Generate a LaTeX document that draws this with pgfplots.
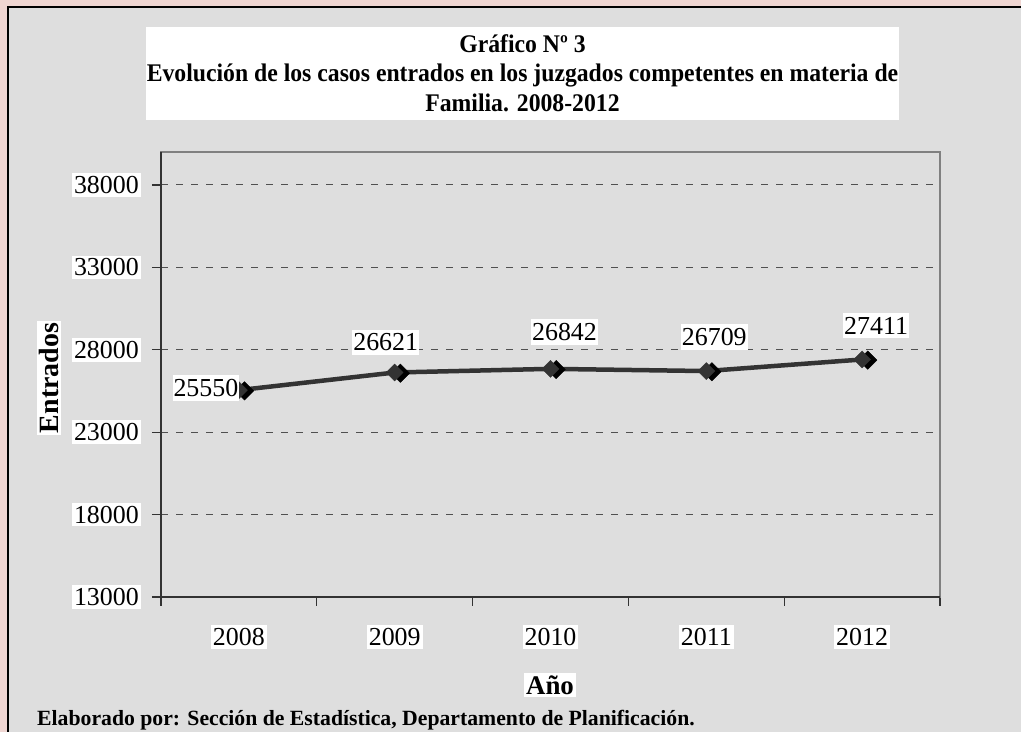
\documentclass[border=0pt]{standalone}
\usepackage{fontspec}
\setmainfont{Liberation Serif}
\usepackage{pgfplots}
\pgfplotsset{compat=1.18}
\usepackage{pgfplotstable}
\definecolor{panel}{HTML}{DEDEDE}
\definecolor{pinkbg}{HTML}{EFD6D2}
\definecolor{linec}{HTML}{333333}
\definecolor{framec}{HTML}{808080}
\definecolor{gridc}{HTML}{505050}
\pgfplotstableread{
x y dx dy
1 25550 -33 2
2 26621 -9 30
3 26842 14 37
4 26709 8 34
5 27411 14 34
}\datatable
\begin{document}
\begin{tikzpicture}
\useasboundingbox (0,0) rectangle (1021bp,732bp);
\fill[pinkbg] (-2bp,-2bp) rectangle (1023bp,734bp);
\fill[panel] (8bp,-3bp) rectangle (1025bp,725bp);
\draw[black, line width=1.5bp] (8bp,-3bp) -- (8bp,725bp) -- (1025bp,725bp);
\fill[white] (146bp,612bp) rectangle (899bp,705bp);
\node[align=center, font=\bfseries\fontsize{23.8}{27.5}\selectfont, yscale=1.07] at (522.5bp,659bp)
  {Gráfico Nº 3\\Evolución de los casos entrados en los juzgados competentes en materia de\\Familia. 2008-2012};
\begin{axis}[
  at={(161bp,135bp)}, anchor=south west,
  width=779bp, height=445bp, scale only axis,
  xmin=0.5, xmax=5.5, ymin=13000, ymax=40000,
  xtick={0.5,1.5,2.5,3.5,4.5,5.5},
  x tick label as interval,
  xticklabels={2008,2009,2010,2011,2012},
  ytick={13000,18000,23000,28000,33000,38000},
  yticklabels={13000,18000,23000,28000,33000,38000},
  scaled y ticks=false,
  ymajorgrids,
  y grid style={draw=gridc, line width=1bp, dash pattern=on 7bp off 8bp},
  tick align=outside, tick pos=left,
  major tick length=9bp,
  axis line style={draw=framec, line width=2bp},
  tick style={draw=linec, line width=1.2bp},
  ticklabel style={font=\fontsize{26}{30}\selectfont, fill=white, inner xsep=2bp, inner ysep=3bp},
  xticklabel style={yshift=-19bp},
  yticklabel style={xshift=-11bp},
  clip=false,
]
\addplot[draw=linec, line width=4.5bp, mark=none] table[x=x,y=y]{\datatable};
\addplot[only marks, mark=square*, mark size=6.5bp,
  mark options={rotate=45, fill=black, draw=black, xshift=3.5bp, yshift=-4.5bp}]
  table[x=x,y=y]{\datatable};
\addplot[only marks, mark=square*, mark size=6bp,
  mark options={rotate=45, fill=linec, draw=linec},
  point meta=explicit symbolic,
  nodes near coords, nodes near coords align={center},
  visualization depends on={\thisrow{dx}\as\dx},
  visualization depends on={\thisrow{dy}\as\dy},
  every node near coord/.append style={anchor=center, xshift=\dx bp, yshift=\dy bp,
    fill=white, text=black, inner xsep=1bp, inner ysep=4bp, font=\fontsize{26}{30}\selectfont}]
  table[x=x,y=y,meta=y]{\datatable};
\draw[linec, line width=2bp] (rel axis cs:0,1) -- (rel axis cs:0,0) -- (rel axis cs:1,0);
\end{axis}
\node[fill=white, inner sep=2bp, font=\bfseries\fontsize{27}{30}\selectfont] at (550bp,47bp) {Año};
\node[fill=white, inner sep=2bp, rotate=90, font=\bfseries\fontsize{28}{30}\selectfont] at (49bp,354bp) {Entrados};
\node[anchor=base west, inner sep=0, font=\bfseries\fontsize{21.8}{25}\selectfont] at (37bp,7bp)
  {Elaborado por: Sección de Estadística, Departamento de Planificación.};
\end{tikzpicture}
\end{document}
